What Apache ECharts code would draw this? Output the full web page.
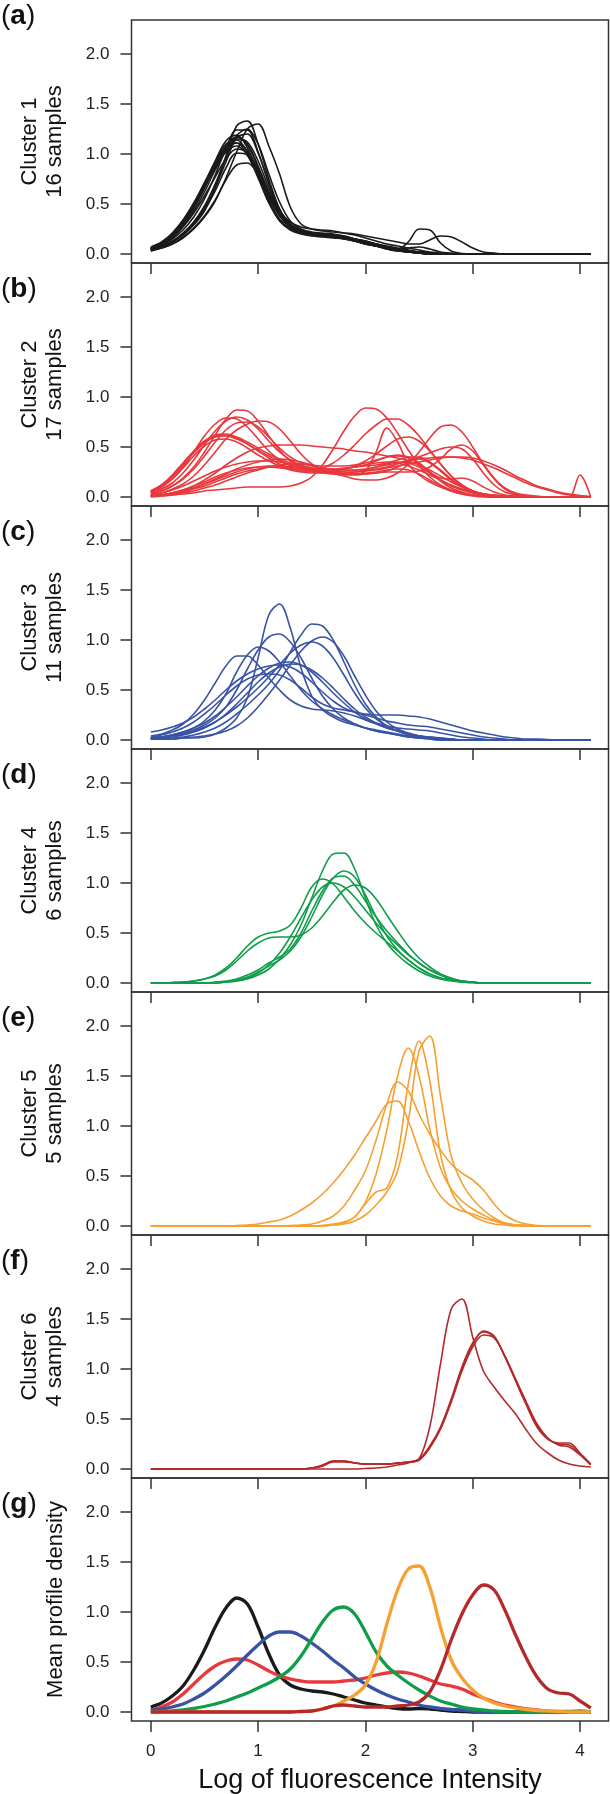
<!DOCTYPE html>
<html><head><meta charset="utf-8">
<script src="https://cdn.jsdelivr.net/npm/echarts@6/dist/echarts.min.js"></script>
<style>html,body{margin:0;padding:0;background:#fff}#c{width:610px;height:1794px}</style>
</head><body><div id="c"></div>
<script>
// x grid (log of fluorescence intensity)
const xs = [0,0.1,0.2,0.3,0.4,0.5,0.6,0.7,0.8,0.9,1,1.1,1.2,1.3,1.4,1.5,1.6,1.7,1.8,1.9,2,2.1,2.2,2.3,2.4,2.5,2.6,2.7,2.8,2.9,3,3.1,3.2,3.3,3.4,3.5,3.6,3.7,3.8,3.9,4,4.1];

const cluster1 = [
[.04,.07,.12,.19,.29,.43,.66,.98,1.28,1.33, 1.10,.75,.45,.29,.23,.21,.20,.19,.17,.14, .11,.08,.06,.04,.02,.01,.005,0,0,0, 0,0,0,0,0,0,0,0,0,0, 0,0],
[.03,.06,.10,.16,.25,.37,.53,.76,1.02,1.25, 1.30,1.08,.80,.47,.30,.25,.23,.22,.21,.20, .18,.16,.14,.12,.10,.10,.14,.18,.17,.12, .06,.02,.01,0,0,0,0,0,0,0, 0,0],
[.05,.09,.15,.24,.37,.55,.79,1.05,1.24,1.24, 1.02,.70,.43,.28,.22,.20,.19,.18,.16,.14, .11,.09,.07,.05,.12,.25,.24,.11,.03,.005, 0,0,0,0,0,0,0,0,0,0, 0,0],
[.04,.08,.13,.21,.32,.48,.70,.96,1.18,1.25, 1.10,.80,.52,.33,.25,.22,.21,.20,.18,.15, .12,.09,.06,.04,.02,.01,0,0,0,0, 0,0,0,0,0,0,0,0,0,0, 0,0],
[.06,.11,.19,.32,.49,.70,.93,1.13,1.19,1.06, .80,.54,.35,.25,.21,.19,.18,.17,.15,.13, .10,.08,.06,.04,.03,.02,.01,0,0,0, 0,0,0,0,0,0,0,0,0,0, 0,0],
[.05,.10,.18,.30,.46,.66,.88,1.07,1.17,1.10, .88,.62,.40,.27,.22,.20,.19,.18,.16,.14, .12,.10,.07,.05,.03,.02,.01,.005,0,0, 0,0,0,0,0,0,0,0,0,0, 0,0],
[.06,.11,.20,.33,.50,.71,.92,1.10,1.14,1.02, .78,.52,.34,.25,.21,.19,.18,.17,.16,.14, .11,.08,.06,.05,.06,.07,.05,.02,.01,0, 0,0,0,0,0,0,0,0,0,0, 0,0],
[.05,.10,.18,.30,.46,.66,.87,1.04,1.11,1.03, .82,.58,.39,.28,.23,.21,.20,.19,.17,.15, .13,.10,.08,.06,.04,.02,.01,0,0,0, 0,0,0,0,0,0,0,0,0,0, 0,0],
[.06,.11,.20,.32,.48,.67,.86,1.02,1.08,.99, .79,.56,.38,.27,.22,.20,.19,.18,.16,.13, .11,.08,.06,.04,.02,.01,0,0,0,0, 0,0,0,0,0,0,0,0,0,0, 0,0],
[.05,.09,.16,.27,.41,.58,.77,.95,1.05,1.01, .84,.61,.42,.30,.24,.21,.20,.19,.17,.15, .12,.10,.07,.05,.03,.02,.01,0,0,0, 0,0,0,0,0,0,0,0,0,0, 0,0],
[.03,.06,.10,.17,.26,.38,.54,.74,.89,.91, .80,.61,.43,.32,.27,.25,.24,.23,.21,.19, .16,.13,.10,.08,.06,.04,.02,.01,0,0, 0,0,0,0,0,0,0,0,0,0, 0,0],
[.06,.11,.19,.31,.47,.67,.89,1.08,1.17,1.09, .86,.60,.39,.27,.22,.20,.19,.18,.16,.14, .12,.09,.07,.05,.03,.02,.01,0,0,0, 0,0,0,0,0,0,0,0,0,0, 0,0],
[.04,.07,.12,.20,.31,.46,.67,.92,1.16,1.20, 1.01,.71,.45,.29,.22,.20,.19,.18,.16,.13, .10,.08,.05,.03,.02,.01,0,0,0,0, 0,0,0,0,0,0,0,0,0,0, 0,0],
[.07,.12,.21,.34,.51,.71,.91,1.07,1.11,.99, .76,.51,.33,.24,.20,.18,.17,.16,.15,.13, .10,.08,.05,.03,.02,.01,0,0,0,0, 0,0,0,0,0,0,0,0,0,0, 0,0],
[.05,.10,.17,.28,.43,.62,.84,1.03,1.15,1.12, .93,.66,.43,.29,.23,.21,.20,.19,.17,.14, .11,.09,.06,.04,.03,.02,.01,0,0,0, 0,0,0,0,0,0,0,0,0,0, 0,0],
[.04,.07,.12,.20,.30,.44,.63,.86,1.01,.99, .84,.62,.43,.30,.24,.21,.20,.19,.18,.15, .13,.10,.07,.05,.03,.02,.01,0,0,0, 0,0,0,0,0,0,0,0,0,0, 0,0]
];

const cluster2 = [
[.03,.06,.11,.19,.30,.45,.62,.78,.87,.86, .76,.61,.47,.36,.30,.27,.25,.24,.24,.25, .27,.30,.33,.35,.34,.30,.24,.17,.11,.07, .04,.02,.01,0,0,0,0,0,0,0, 0,0],
[.05,.10,.18,.30,.45,.61,.73,.79,.78,.70, .58,.46,.37,.31,.28,.26,.25,.24,.23,.23, .23,.24,.26,.30,.35,.40,.44,.48,.50,.48, .38,.24,.12,.05,.02,.01,0,0,0,0, 0,0],
[.04,.08,.14,.24,.37,.52,.66,.76,.80,.77, .68,.56,.45,.37,.32,.29,.27,.27,.28,.30, .32,.36,.40,.42,.40,.34,.25,.16,.09,.05, .02,.01,0,0,0,0,0,0,0,0, 0,0],
[.02,.04,.08,.13,.21,.32,.45,.58,.67,.73, .76,.75,.68,.56,.43,.33,.27,.24,.23,.23, .24,.25,.27,.28,.27,.23,.17,.11,.06,.03, .01,0,0,0,0,0,0,0,0,0, 0,0],
[.03,.06,.11,.18,.28,.41,.55,.67,.74,.75, .70,.60,.49,.40,.34,.31,.29,.28,.27,.27, .27,.28,.30,.33,.37,.38,.34,.26,.17,.10, .05,.02,.01,0,0,0,0,0,0,0, 0,0],
[.06,.12,.22,.34,.46,.56,.62,.63,.60,.55, .49,.43,.38,.34,.31,.29,.28,.28,.29,.30, .31,.32,.34,.37,.40,.40,.35,.27,.18,.11, .06,.03,.01,0,0,0,0,0,0,0, 0,0],
[.05,.11,.20,.32,.44,.54,.60,.61,.58,.53, .47,.41,.36,.32,.29,.27,.26,.25,.25,.25, .26,.27,.29,.31,.33,.35,.37,.39,.40,.39, .37,.33,.29,.24,.19,.14,.10,.07,.04,.02, .01,0],
[.05,.10,.18,.29,.41,.51,.57,.58,.55,.49, .42,.36,.31,.27,.25,.24,.24,.25,.26,.27, .28,.30,.32,.34,.36,.38,.39,.40,.40,.40, .39,.36,.32,.27,.21,.16,.11,.08,.05,.03, .015,.005],
[.06,.12,.21,.33,.45,.55,.61,.62,.59,.53, .46,.39,.33,.29,.26,.25,.25,.26,.28,.30, .32,.34,.35,.34,.31,.27,.22,.17,.12,.08, .05,.03,.02,.01,.01,.005,0,0,0,0, .22,0],
[.01,.02,.04,.07,.11,.17,.24,.32,.39,.45, .49,.51,.52,.52,.52,.51,.50,.49,.48,.46, .45,.43,.41,.39,.36,.32,.27,.21,.15,.10, .06,.03,.02,.01,0,0,0,0,0,0, 0,0],
[0,.01,.02,.03,.04,.06,.07,.08,.09,.10, .10,.10,.10,.11,.14,.20,.32,.48,.66,.81, .89,.88,.79,.64,.47,.32,.20,.12,.07,.04, .02,.01,0,0,0,0,0,0,0,0, 0,0],
[.01,.02,.04,.07,.11,.15,.20,.24,.27,.29, .30,.30,.29,.28,.27,.27,.29,.34,.42,.52, .63,.72,.78,.78,.72,.61,.47,.33,.21,.12, .06,.03,.01,0,0,0,0,0,0,0, 0,0],
[.02,.04,.07,.11,.16,.21,.26,.30,.33,.35, .36,.36,.35,.33,.31,.28,.26,.24,.23,.23, .26,.45,.69,.55,.33,.22,.15,.10,.06,.03, .02,.01,0,0,0,0,0,0,0,0, 0,0],
[.01,.02,.04,.06,.09,.13,.18,.23,.28,.32, .35,.37,.38,.37,.35,.32,.28,.24,.21,.18, .17,.17,.19,.24,.33,.45,.59,.70,.72,.65, .50,.33,.19,.09,.04,.02,.01,0,0,0, 0,0],
[.01,.02,.03,.05,.08,.11,.15,.19,.23,.26, .28,.30,.30,.30,.29,.28,.27,.27,.28,.31, .36,.43,.51,.58,.60,.56,.46,.33,.21,.12, .06,.03,.01,0,0,0,0,0,0,0, 0,0],
[.01,.02,.04,.06,.09,.13,.17,.21,.25,.28, .30,.31,.31,.30,.28,.26,.24,.23,.22,.22, .23,.24,.25,.25,.25,.26,.30,.38,.48,.52, .46,.32,.18,.08,.03,.01,0,0,0,0, 0,0],
[.01,.01,.02,.04,.06,.09,.12,.16,.20,.24, .27,.30,.32,.33,.33,.32,.31,.31,.31,.32, .34,.37,.40,.41,.39,.33,.25,.19,.18,.19, .16,.10,.05,.02,.01,0,0,0,0,0, 0,0]
];

const cluster3 = [
[.01,.01,.01,.02,.02,.03,.06,.12,.22,.42, .82,1.25,1.36,1.12,.72,.44,.30,.23,.18,.15, .12,.10,.08,.06,.04,.03,.02,.01,.01,0, 0,0,0,0,0,0,0,0,0,0, 0,0],
[.02,.03,.05,.07,.10,.15,.22,.33,.50,.71, .90,1.03,1.06,.98,.82,.62,.44,.31,.22,.16, .12,.09,.07,.05,.03,.02,.01,0,0,0, 0,0,0,0,0,0,0,0,0,0, 0,0],
[.04,.06,.10,.16,.26,.40,.57,.74,.84,.84, .75,.62,.50,.40,.34,.31,.30,.29,.27,.24, .20,.16,.12,.09,.06,.04,.03,.02,.01,0, 0,0,0,0,0,0,0,0,0,0, 0,0],
[.02,.03,.05,.08,.12,.19,.30,.46,.68,.85, .93,.89,.78,.64,.50,.39,.31,.25,.20,.16, .12,.09,.07,.05,.03,.02,.01,0,0,0, 0,0,0,0,0,0,0,0,0,0, 0,0],
[.01,.01,.02,.03,.05,.08,.12,.18,.26,.35, .45,.56,.70,.88,1.05,1.16,1.14,1.00,.78,.55, .36,.23,.14,.09,.05,.03,.02,.01,0,0, 0,0,0,0,0,0,0,0,0,0, 0,0],
[.01,.01,.01,.02,.03,.04,.06,.09,.14,.22, .33,.46,.60,.75,.89,.99,1.03,.98,.84,.64, .45,.29,.18,.11,.07,.04,.02,.01,0,0, 0,0,0,0,0,0,0,0,0,0, 0,0],
[.02,.03,.04,.06,.09,.13,.18,.25,.33,.42, .52,.63,.75,.87,.95,.98,.94,.82,.65,.47, .32,.21,.14,.09,.06,.04,.02,.01,0,0, 0,0,0,0,0,0,0,0,0,0, 0,0],
[.08,.10,.13,.17,.23,.31,.40,.50,.59,.66, .71,.74,.75,.73,.67,.58,.48,.39,.32,.28, .26,.25,.25,.25,.24,.23,.21,.18,.15,.12, .09,.07,.05,.03,.02,.01,.01,.005,0,0, 0,0],
[.02,.03,.05,.08,.12,.17,.24,.33,.43,.54, .64,.72,.77,.78,.75,.68,.58,.47,.37,.28, .21,.17,.14,.12,.11,.10,.09,.07,.05,.03, .02,.01,0,0,0,0,0,0,0,0, 0,0],
[.03,.05,.08,.12,.18,.26,.35,.45,.54,.61, .65,.66,.65,.60,.52,.43,.36,.32,.30,.28, .25,.22,.19,.17,.15,.14,.13,.11,.09,.07, .05,.03,.02,.01,0,0,0,0,0,0, 0,0],
[.01,.02,.03,.05,.08,.12,.18,.26,.36,.47, .58,.67,.73,.76,.75,.70,.62,.52,.41,.31, .23,.17,.12,.09,.06,.04,.03,.02,.01,0, 0,0,0,0,0,0,0,0,0,0, 0,0]
];

const cluster4 = [
[0,0,0,0,0,0,.005,.01,.02,.04, .08,.14,.24,.38,.58,.85,1.12,1.29,1.30,1.14, .85,.58,.40,.28,.19,.12,.07,.04,.02,.01, .005,0,0,0,0,0,0,0,0,0, 0,0],
[0,0,.005,.01,.02,.04,.08,.15,.25,.37, .46,.50,.52,.58,.75,.96,1.04,.99,.86,.72, .60,.50,.41,.32,.23,.15,.09,.05,.03,.01, .005,0,0,0,0,0,0,0,0,0, 0,0],
[0,0,0,0,0,0,0,.01,.03,.06, .11,.17,.23,.32,.46,.66,.88,1.05,1.12,1.06, .88,.66,.47,.33,.23,.15,.09,.05,.03,.01, .005,0,0,0,0,0,0,0,0,0, 0,0],
[0,0,0,0,0,0,.01,.02,.04,.08, .13,.20,.26,.34,.50,.72,.92,1.05,1.07,.98, .82,.66,.52,.40,.29,.20,.13,.08,.04,.02, .01,0,0,0,0,0,0,0,0,0, 0,0],
[0,0,0,0,0,0,0,.01,.02,.05, .10,.18,.30,.46,.65,.83,.96,1.00,.96,.86, .73,.60,.48,.38,.28,.20,.13,.08,.04,.02, .01,0,0,0,0,0,0,0,0,0, 0,0],
[0,0,.005,.01,.02,.04,.07,.13,.22,.32, .40,.45,.46,.46,.48,.55,.67,.81,.93,.98, .95,.84,.68,.52,.37,.25,.16,.09,.05,.02, .01,0,0,0,0,0,0,0,0,0, 0,0]
];

const cluster5 = [
[0,0,0,0,0,0,0,0,.005,.01, .02,.04,.06,.10,.16,.23,.32,.43,.56,.71, .88,1.05,1.22,1.25,1.05,.75,.48,.30,.20,.15, .12,.08,.05,.02,.01,.005,0,0,0,0, 0,0],
[0,0,0,0,0,0,0,0,0,0, 0,0,0,.005,.01,.02,.05,.10,.20,.36, .55,.86,1.22,1.44,1.35,1.12,.92,.76,.62,.53, .46,.36,.22,.11,.05,.02,.005,0,0,0, 0,0],
[0,0,0,0,0,0,0,0,0,0, 0,0,0,0,0,0,.005,.02,.04,.09, .24,.52,.96,1.50,1.78,1.50,.97,.58,.37,.25, .17,.11,.06,.03,.01,.005,0,0,0,0, 0,0],
[0,0,0,0,0,0,0,0,0,0, 0,0,0,0,0,0,0,.01,.03,.09, .22,.34,.38,.70,1.42,1.85,1.45,.72,.35,.18, .10,.05,.02,.01,0,0,0,0,0,0, 0,0],
[0,0,0,0,0,0,0,0,0,0, 0,0,0,0,0,0,.005,.01,.02,.05, .11,.21,.34,.55,1.05,1.75,1.90,1.30,.70,.43, .27,.16,.08,.03,.01,.005,0,0,0,0, 0,0]
];

const cluster6 = [
[0,0,0,0,0,0,0,0,0,0, 0,0,0,0,0,0,0,0,0,0, .005,.01,.02,.04,.06,.10,.42,1.05,1.60,1.70, 1.32,.98,.82,.68,.55,.39,.25,.16,.09,.05, .03,.02],
[0,0,0,0,0,0,0,0,0,0, 0,0,0,0,0,.01,.04,.08,.08,.06, .05,.05,.05,.06,.07,.09,.22,.40,.68,1.00, 1.25,1.38,1.33,1.12,.88,.64,.42,.30,.26,.26, .16,.05],
[0,0,0,0,0,0,0,0,0,0, 0,0,0,0,0,.01,.03,.08,.08,.06, .05,.05,.05,.06,.07,.10,.23,.42,.70,1.02, 1.26,1.37,1.32,1.13,.89,.65,.43,.30,.25,.24, .15,.05],
[0,0,0,0,0,0,0,0,0,0, 0,0,0,0,0,.01,.03,.07,.07,.06, .05,.05,.05,.06,.07,.09,.21,.40,.67,.98, 1.22,1.34,1.31,1.13,.90,.67,.45,.31,.24,.22, .14,.04]
];

// mean profiles, panel (g)
const meanC1 = [.05,.09,.16,.26,.42,.62,.85,1.04,1.14,1.08, .85,.58,.37,.27,.23,.21,.20,.18,.15,.12, .09,.07,.05,.035,.03,.035,.03,.02,.01,.005, 0,0,0,0,0,0,0,0,0,0, 0,0];
const meanC2 = [.02,.05,.10,.18,.28,.38,.46,.51,.53,.52, .47,.41,.36,.33,.31,.30,.30,.30,.31,.32, .34,.37,.39,.40,.39,.36,.32,.28,.26,.23, .18,.14,.10,.07,.05,.03,.02,.01,.005,.005, .01,0];
const meanC3 = [.02,.03,.05,.08,.13,.19,.27,.36,.46,.57, .67,.76,.80,.80,.76,.69,.61,.52,.44,.35, .28,.22,.17,.13,.10,.07,.05,.035,.025,.02, .01,.005,0,0,0,0,0,0,0,0, 0,0];
const meanC4 = [0,.005,.01,.02,.035,.055,.08,.11,.15,.19, .24,.29,.35,.43,.56,.73,.90,1.02,1.05,.98, .80,.60,.46,.37,.29,.22,.16,.11,.08,.05, .03,.02,.01,.005,0,0,0,0,0,0, 0,0];
const meanC5 = [0,0,0,0,0,0,0,0,0,0, 0,0,0,0,.005,.01,.03,.06,.11,.17, .27,.50,.88,1.22,1.43,1.46,1.25,.85,.52,.34, .22,.14,.09,.06,.04,.025,.015,.01,.005,0, 0,0];
const meanC6 = [0,0,0,0,0,0,0,0,0,0, 0,0,0,0,.005,.01,.03,.06,.07,.06, .05,.05,.05,.06,.07,.10,.20,.42,.72,.98, 1.17,1.27,1.22,1.02,.77,.54,.35,.23,.19,.18, .11,.04];

const colors = ['#1a1a1a','#e8383d','#3953a4','#0f9d4a','#f5a031','#b5292b'];
const panelLetters = ['a','b','c','d','e','f','g'];
const yTitles = [['Cluster 1','16 samples'],['Cluster 2','17 samples'],['Cluster 3','11 samples'],['Cluster 4','6 samples'],['Cluster 5','5 samples'],['Cluster 6','4 samples'],['Mean profile density']];
const yTicks = [0,0.5,1,1.5,2];
const xTicks = [0,1,2,3,4];
const xTitle = 'Log of fluorescence Intensity';

const FONT = "'Liberation Sans', Arial, Helvetica, sans-serif";
const PTOP = 20, PH = 243, PLEFT = 131.5, PW = 477;

const grids = [], xAxes = [], yAxes = [], series = [], graphics = [];
for (let i = 0; i < 7; i++) {
  const top = PTOP + PH * i;
  grids.push({left: PLEFT, top: top, width: PW, height: PH, show: true, borderColor: '#333', borderWidth: 1.5, backgroundColor: 'transparent'});
  xAxes.push({type: 'value', gridIndex: i, min: -0.18, max: 4.266, position: 'bottom',
    axisLine: {show: false, onZero: false}, splitLine: {show: false},
    axisTick: {show: true, customValues: xTicks, length: 11, inside: false, lineStyle: {color: '#333', width: 1.5}},
    axisLabel: {show: i === 6, customValues: xTicks, margin: 22, fontSize: 17, color: '#222', fontFamily: FONT, formatter: v => String(v)}});
  yAxes.push({type: 'value', gridIndex: i, min: -0.09, max: 2.34, position: 'left',
    axisLine: {show: false, onZero: false}, splitLine: {show: false},
    axisTick: {show: true, customValues: yTicks, length: 11, inside: false, lineStyle: {color: '#333', width: 1.5}},
    axisLabel: {show: true, customValues: yTicks, margin: 22, fontSize: 17, color: '#222', fontFamily: FONT, formatter: v => Number(v).toFixed(1)}});
  // panel letter
  graphics.push({type: 'text', x: 1, y: i === 0 ? 16 : top + 26, style: {
    text: '{n|(}{b|' + panelLetters[i] + '}{n|)}', align: 'left', verticalAlign: 'middle', fill: '#111',
    rich: {n: {fontSize: 28, fontFamily: FONT, fontWeight: 'normal', fill: '#111'}, b: {fontSize: 28, fontFamily: FONT, fontWeight: 'bold', fill: '#111'}}}});
  // y titles
  const t = yTitles[i];
  const cy = top + PH / 2;
  if (t.length === 2) {
    graphics.push({type: 'text', x: 30, y: cy, rotation: Math.PI / 2, style: {text: t[0], font: '22px ' + FONT, fill: '#111', align: 'center', verticalAlign: 'middle'}});
    graphics.push({type: 'text', x: 55, y: cy, rotation: Math.PI / 2, style: {text: t[1], font: '22px ' + FONT, fill: '#111', align: 'center', verticalAlign: 'middle'}});
  } else {
    graphics.push({type: 'text', x: 56, y: cy, rotation: Math.PI / 2, style: {text: t[0], font: '22px ' + FONT, fill: '#111', align: 'center', verticalAlign: 'middle'}});
  }
}
graphics.push({type: 'text', x: PLEFT + PW / 2, y: 1781, style: {text: xTitle, font: '27px ' + FONT, fill: '#111', align: 'center', verticalAlign: 'middle'}});

function addLine(ys, gi, color, width) {
  series.push({type: 'line', xAxisIndex: gi, yAxisIndex: gi, data: xs.map((x, k) => [x, ys[k]]),
    showSymbol: false, symbol: 'none', smooth: 0.35, silent: true, animation: false,
    lineStyle: {color: color, width: width}});
}
[cluster1, cluster2, cluster3, cluster4, cluster5, cluster6].forEach((cl, ci) => {
  cl.forEach(ys => addLine(ys, ci, colors[ci], 1.6));
});
[meanC1, meanC2, meanC3, meanC4, meanC5, meanC6].forEach((ys, ci) => addLine(ys, 6, colors[ci], 3.3));

const chart = echarts.init(document.getElementById('c'), null, {renderer: 'canvas'});
chart.setOption({animation: false, backgroundColor: '#fff', grid: grids, xAxis: xAxes, yAxis: yAxes, series: series, graphic: graphics});
</script>
</body></html>
